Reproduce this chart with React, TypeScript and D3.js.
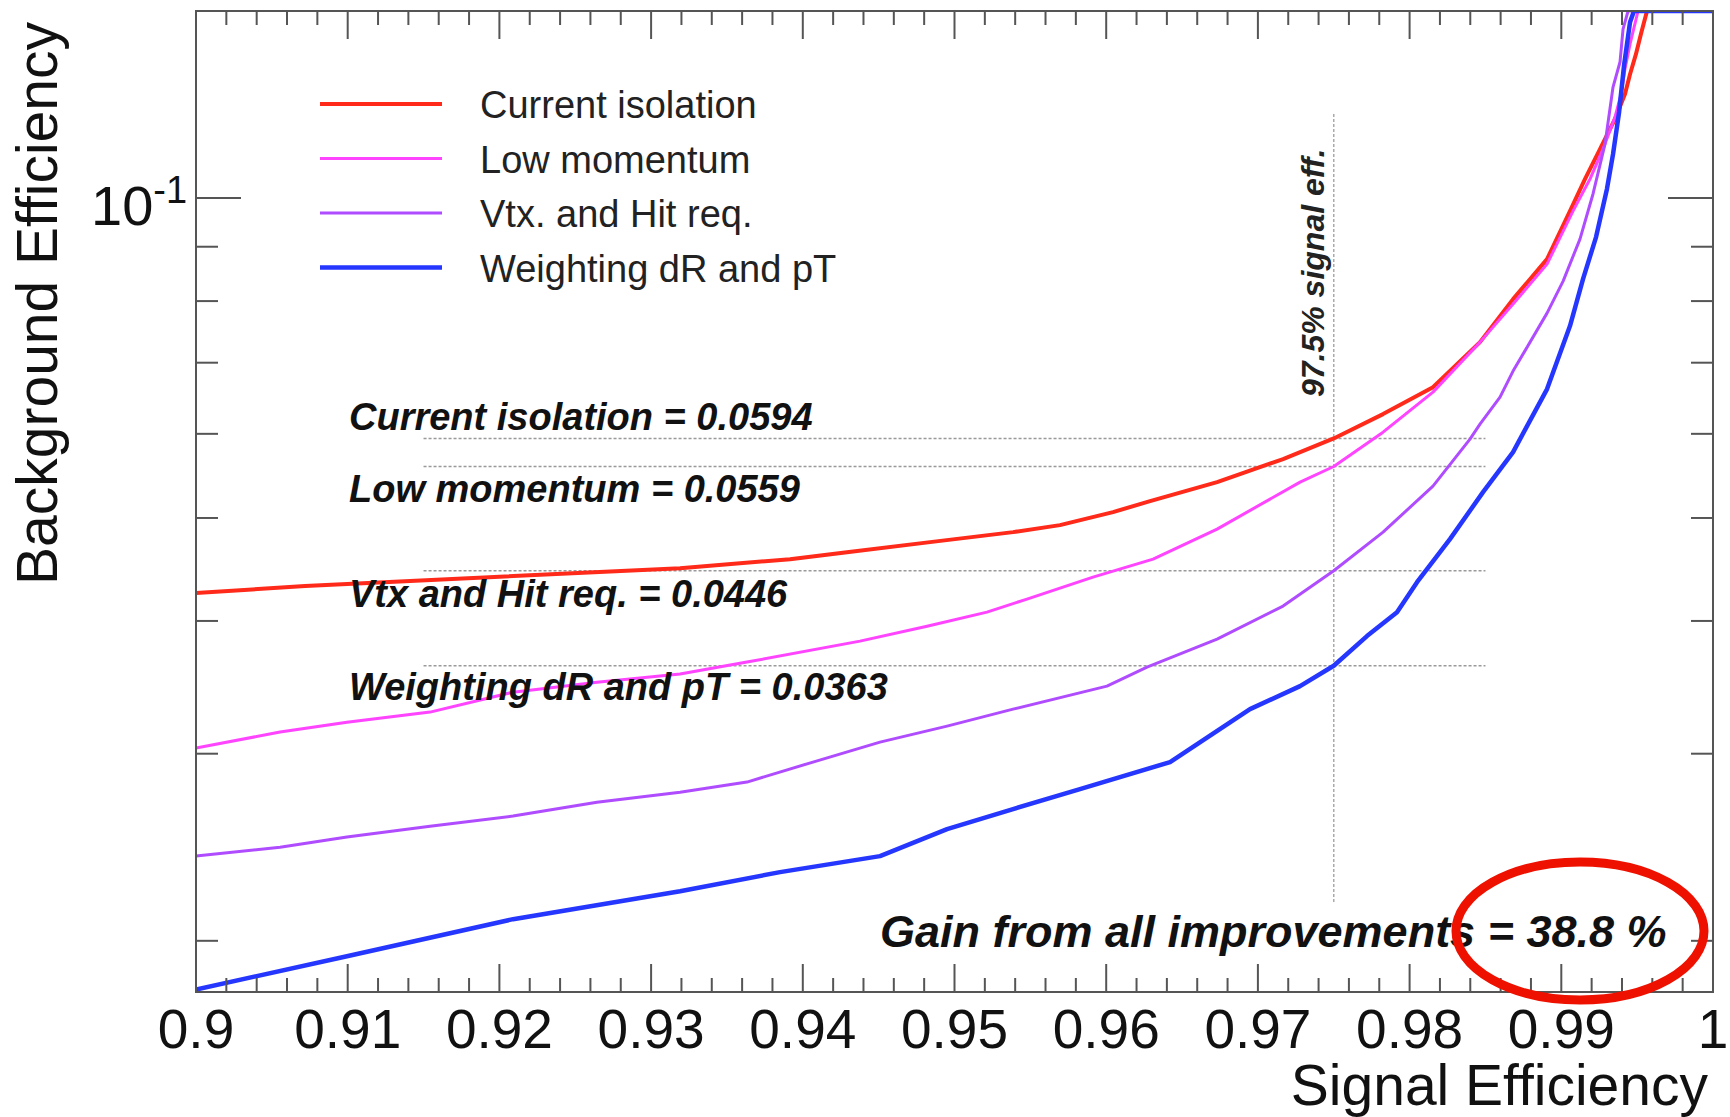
import React from "react";
import * as d3 from "d3";

// ---------- data ----------
const seriesNames = ["Current isolation", "Low momentum", "Vtx. and Hit req.", "Weighting dR and pT"];
const seriesColors = ["#ff2a1a", "#ff44ff", "#b04cff", "#2536ff"];
const seriesWidths = [4, 3, 3, 4.5];

const currentIsoX = [0.9, 0.90719, 0.93191, 0.93916, 0.94291, 0.94839, 0.95386, 0.95695, 0.96045, 0.96289, 0.96731, 0.97166, 0.975, 0.97825, 0.98154, 0.98464, 0.98682, 0.98906, 0.99057, 0.99156, 0.99255, 0.99354, 0.9942, 0.99453, 0.99492, 0.99525, 0.99565, 1.0];
const currentIsoY = [0.04249, 0.04314, 0.04485, 0.04573, 0.04643, 0.04745, 0.04849, 0.04923, 0.05064, 0.05186, 0.05404, 0.0568, 0.0594, 0.06262, 0.06639, 0.07319, 0.08034, 0.08762, 0.09722, 0.1042, 0.1112, 0.1187, 0.1253, 0.1308, 0.1366, 0.1427, 0.15, 1.0];

const lowMomX = [0.9, 0.90554, 0.90995, 0.91543, 0.9209, 0.92643, 0.93191, 0.93632, 0.94377, 0.94819, 0.95214, 0.95478, 0.95913, 0.96309, 0.96731, 0.97278, 0.975, 0.97825, 0.98154, 0.98464, 0.98682, 0.98906, 0.99077, 0.99189, 0.99275, 0.99354, 0.99394, 0.9942, 0.99453, 0.99506, 1.0];
const lowMomY = [0.03037, 0.03144, 0.03212, 0.03283, 0.03428, 0.03503, 0.03565, 0.03659, 0.03829, 0.03955, 0.04077, 0.04194, 0.04399, 0.04573, 0.04881, 0.05404, 0.0559, 0.06022, 0.06568, 0.07319, 0.07948, 0.08667, 0.09722, 0.1042, 0.1112, 0.1192, 0.1253, 0.1323, 0.1396, 0.15, 1.0];

const vtxHitX = [0.9, 0.90554, 0.90995, 0.91543, 0.9209, 0.92643, 0.93191, 0.93632, 0.94067, 0.94509, 0.94951, 0.95386, 0.96005, 0.96269, 0.96731, 0.97166, 0.975, 0.97825, 0.98154, 0.98398, 0.98464, 0.98596, 0.98682, 0.98906, 0.99012, 0.99123, 0.99209, 0.99288, 0.99341, 0.99387, 0.99407, 0.9944, 1.0];
const vtxHitY = [0.02403, 0.0245, 0.02504, 0.02564, 0.02621, 0.02701, 0.0276, 0.02821, 0.02946, 0.03076, 0.03185, 0.03304, 0.03473, 0.03619, 0.03846, 0.04131, 0.0446, 0.04849, 0.05357, 0.05932, 0.06128, 0.06497, 0.06874, 0.07794, 0.08354, 0.0915, 0.1009, 0.1124, 0.1272, 0.1343, 0.1442, 0.15, 1.0];

const weightX = [0.9, 0.90995, 0.9209, 0.93191, 0.9385, 0.94509, 0.94951, 0.95386, 0.95827, 0.96421, 0.96948, 0.97278, 0.975, 0.97719, 0.97917, 0.98049, 0.98266, 0.98484, 0.98682, 0.98906, 0.99057, 0.99143, 0.99229, 0.99301, 0.99341, 0.99381, 0.99413, 0.99453, 0.99479, 1.0];
const weightY = [0.018, 0.01934, 0.02096, 0.02227, 0.02321, 0.02403, 0.02548, 0.02661, 0.02778, 0.02946, 0.03304, 0.03473, 0.0363, 0.03871, 0.04077, 0.04351, 0.04776, 0.05288, 0.05767, 0.06611, 0.07578, 0.0839, 0.0919, 0.102, 0.11, 0.1205, 0.1331, 0.1464, 0.15, 1.0];

const seriesX = [currentIsoX, lowMomX, vtxHitX, weightX];
const seriesY = [currentIsoY, lowMomY, vtxHitY, weightY];

const wpLabels = ["Current isolation", "Low momentum", "Vtx and Hit req.", "Weighting dR and pT"];
const wpValues = [0.0594, 0.0559, 0.0446, 0.0363];
const wpSignal = 0.975;
const refLineX = [0.915, 0.985];
const refLineY = [0.0217, 0.12];
const gainText = "Gain from all improvements = 38.8 %";

const xTickLabels = ["0.9", "0.91", "0.92", "0.93", "0.94", "0.95", "0.96", "0.97", "0.98", "0.99", "1"];
const yMajorTicks = [0.1];
const yMinorTicks = [0.02, 0.03, 0.04, 0.05, 0.06, 0.07, 0.08, 0.09];

// ---------- layout ----------
const W = 1730, H = 1117;
const L = 196, R = 1713, T = 11, B = 992;
const Y_MIN = 0.0179, Y_MAX = 0.15;
const FONT = "'Liberation Sans', Arial, Helvetica, sans-serif";
const AX = "#555";

export default function App() {
  const x = d3.scaleLinear().domain([0.9, 1.0]).range([L, R]);
  const y = d3.scaleLog().domain([Y_MIN, Y_MAX]).range([B, T]);
  const line = d3
    .line<[number, number]>()
    .x((d) => x(d[0]))
    .y((d) => y(Math.min(Math.max(d[1], Y_MIN), Y_MAX)));

  const xMinor = d3.range(0, 51).map((i) => 0.9 + i * 0.002).filter((_, i) => i % 5 !== 0);
  const xMajor = d3.range(0, 11).map((i) => 0.9 + i * 0.01);

  const legendY = [104, 158.5, 213, 267.5];
  const wpTextY = [430, 502, 607, 700];

  return (
    <svg width={W} height={H} style={{ position: "absolute", left: 0, top: 0, background: "#fff" }} fontFamily={FONT}>
      <defs>
        <clipPath id="frame">
          <rect x={L} y={T} width={R - L} height={B - T} />
        </clipPath>
      </defs>
      <rect x={0} y={0} width={W} height={H} fill="#fff" />

      {/* reference dotted lines */}
      {wpValues.map((v, i) => (
        <line key={"h" + i} x1={x(refLineX[0])} x2={x(refLineX[1])} y1={y(v)} y2={y(v)} stroke="#999" strokeWidth={1.5} strokeDasharray="3,2" />
      ))}
      <line x1={x(wpSignal)} x2={x(wpSignal)} y1={y(refLineY[1])} y2={y(refLineY[0])} stroke="#aaa" strokeWidth={1.5} strokeDasharray="3,2" />

      {/* curves */}
      <g clipPath="url(#frame)">
        {seriesX.map((xs, s) => (
          <path
            key={s}
            d={line(xs.map((v, i) => [v, seriesY[s][i]] as [number, number])) || ""}
            fill="none"
            stroke={seriesColors[s]}
            strokeWidth={seriesWidths[s]}
            strokeLinejoin="round"
          />
        ))}
      </g>

      {/* frame */}
      <rect x={L} y={T} width={R - L} height={B - T} fill="none" stroke={AX} strokeWidth={2} />

      {/* x ticks */}
      {xMajor.map((v, i) => (
        <g key={"xM" + i}>
          <line x1={x(v)} x2={x(v)} y1={B} y2={B - 28} stroke={AX} strokeWidth={2} />
          <line x1={x(v)} x2={x(v)} y1={T} y2={T + 28} stroke={AX} strokeWidth={2} />
          <text x={x(v)} y={1048} fontSize={55} textAnchor="middle" fill="#111">
            {xTickLabels[i]}
          </text>
        </g>
      ))}
      {xMinor.map((v, i) => (
        <g key={"xm" + i}>
          <line x1={x(v)} x2={x(v)} y1={B} y2={B - 14} stroke={AX} strokeWidth={2} />
          <line x1={x(v)} x2={x(v)} y1={T} y2={T + 14} stroke={AX} strokeWidth={2} />
        </g>
      ))}

      {/* y ticks */}
      {yMajorTicks.map((v, i) => (
        <g key={"yM" + i}>
          <line x1={L} x2={L + 45} y1={y(v)} y2={y(v)} stroke={AX} strokeWidth={2} />
          <line x1={R} x2={R - 45} y1={y(v)} y2={y(v)} stroke={AX} strokeWidth={2} />
          <text x={91} y={y(v) + 27} fontSize={56} fill="#111">
            10<tspan fontSize={38} dy={-22}>-1</tspan>
          </text>
        </g>
      ))}
      {yMinorTicks.map((v, i) => (
        <g key={"ym" + i}>
          <line x1={L} x2={L + 22} y1={y(v)} y2={y(v)} stroke={AX} strokeWidth={2} />
          <line x1={R} x2={R - 22} y1={y(v)} y2={y(v)} stroke={AX} strokeWidth={2} />
        </g>
      ))}

      {/* axis titles */}
      <text x={1708} y={1105} fontSize={57} textAnchor="end" fill="#111">
        Signal Efficiency
      </text>
      <text transform="translate(57,22) rotate(-90)" fontSize={57} textAnchor="end" fill="#111">
        Background Efficiency
      </text>

      {/* legend */}
      {seriesNames.map((n, i) => (
        <g key={"lg" + i}>
          <line x1={320} x2={442} y1={legendY[i]} y2={legendY[i]} stroke={seriesColors[i]} strokeWidth={seriesWidths[i]} />
          <text x={480} y={legendY[i] + 14} fontSize={38} fill="#222">
            {n}
          </text>
        </g>
      ))}

      {/* working point labels */}
      {wpLabels.map((n, i) => (
        <text key={"wp" + i} x={349} y={wpTextY[i]} fontSize={38} fontWeight="bold" fontStyle="italic" fill="#111">
          {n} = {wpValues[i].toFixed(4)}
        </text>
      ))}
      <text transform={`translate(${x(wpSignal) - 10},397) rotate(-90)`} fontSize={32} fontWeight="bold" fontStyle="italic" fill="#222">
        97.5% signal eff.
      </text>
      <text x={880} y={947} fontSize={45} fontWeight="bold" fontStyle="italic" fill="#111">
        {gainText}
      </text>

      {/* highlight ellipse */}
      <ellipse cx={1580} cy={931} rx={124} ry={69} fill="none" stroke="#ee1100" strokeWidth={9} />
    </svg>
  );
}
